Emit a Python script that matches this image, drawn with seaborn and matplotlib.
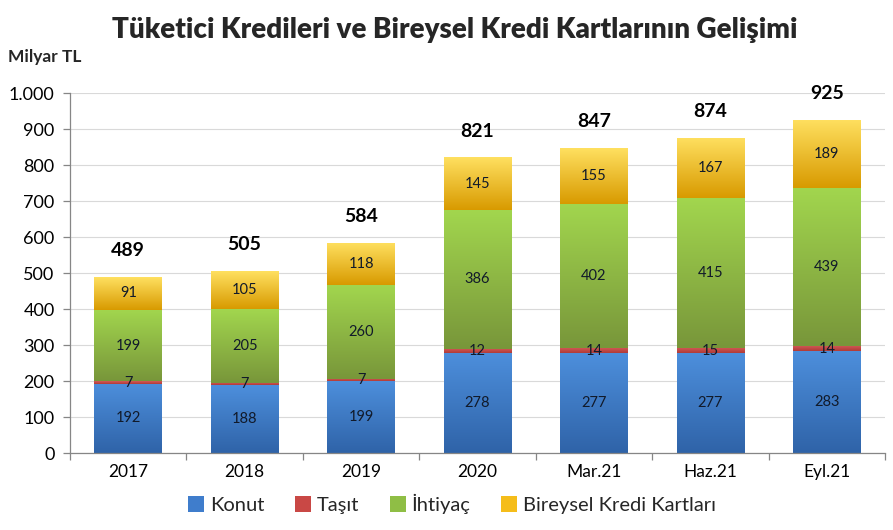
import numpy as np
import pandas as pd
import matplotlib
matplotlib.use("Agg")
import matplotlib.pyplot as plt
import seaborn as sns
from matplotlib.colors import LinearSegmentedColormap
from matplotlib.patches import Patch
from matplotlib.ticker import FuncFormatter, FixedLocator

categories = ['2017', '2018', '2019', '2020', 'Mar.21', 'Haz.21', 'Eyl.21']
konut = [192, 188, 199, 278, 277, 277, 283]
tasit = [7, 7, 7, 12, 14, 15, 14]
ihtiyac = [199, 205, 260, 386, 402, 415, 439]
kart = [91, 105, 118, 145, 155, 167, 189]
totals = [489, 505, 584, 821, 847, 874, 925]
series_names = ['Konut', 'Taşıt', 'İhtiyaç', 'Bireysel Kredi Kartları']
yticks = [0, 100, 200, 300, 400, 500, 600, 700, 800, 900, 1000]

sns.set_theme(style="white")
plt.rcParams['font.family'] = ['Lato', 'DejaVu Sans']

fig = plt.figure(figsize=(8.93, 5.3), dpi=100)
ax = fig.add_axes([70/893, 77/530, 815/893, 360/530])

# gradient (top colour, bottom colour) per series
grads = [('#4d8fdc', '#2f63a8'),
         ('#d45a57', '#b03b38'),
         ('#a2d64e', '#78963a'),
         ('#ffe060', '#d89a00')]
legend_cols = ['#3f7dcc', '#c94845', '#8fbe45', '#f5bd1a']

data = [konut, tasit, ihtiyac, kart]
df = pd.DataFrame({'cat': categories})
bottom = np.zeros(len(categories))
patch_groups = []
for i, vals in enumerate(data):
    df['v'] = vals
    n_before = len(ax.patches)
    sns.barplot(data=df, x='cat', y='v', bottom=bottom.copy(), color=grads[i][0],
                width=0.58, ax=ax, saturation=1, linewidth=0, errorbar=None)
    patch_groups.append(ax.patches[n_before:])
    bottom += np.array(vals)

ax.set_xlim(-0.5, len(categories) - 0.5)
ax.set_ylim(0, 1000)

# apply vertical gradients
for i, patches in enumerate(patch_groups):
    cmap = LinearSegmentedColormap.from_list('g%d' % i, [grads[i][1], grads[i][0]])
    grad = np.linspace(0, 1, 256).reshape(-1, 1)
    for p in patches:
        x0, y0 = p.get_x(), p.get_y()
        w, h = p.get_width(), p.get_height()
        im = ax.imshow(grad, cmap=cmap, origin='lower', aspect='auto',
                       extent=[x0, x0 + w, y0, y0 + h], zorder=2.5)
        im.set_clip_path(p)
ax.set_xlim(-0.5, len(categories) - 0.5)
ax.set_ylim(0, 1000)

# segment labels
bottom = np.zeros(len(categories))
for i, vals in enumerate(data):
    for j, v in enumerate(vals):
        yc = bottom[j] + v / 2
        ax.text(j, yc, str(v), ha='center', va='center', fontsize=10.5,
                color='#111a2a', zorder=5)
    bottom += np.array(vals)

# totals
for j, t in enumerate(totals):
    ax.annotate(str(t), (j, t), xytext=(0, 19), textcoords='offset points',
                ha='center', va='center', fontsize=14, fontweight='bold',
                color='black', zorder=5)

# axes styling
ax.yaxis.set_major_locator(FixedLocator(yticks))
ax.yaxis.set_major_formatter(FuncFormatter(lambda v, p: f"{int(v):,}".replace(',', '.')))
ax.grid(axis='y', color='#d9d9d9', linewidth=0.8, zorder=0)
ax.set_axisbelow(True)
for s in ['top', 'right']:
    ax.spines[s].set_visible(False)
for s in ['left', 'bottom']:
    ax.spines[s].set_color('#868686')
    ax.spines[s].set_linewidth(0.9)
ax.tick_params(axis='y', which='major', direction='out', length=5, color='#868686',
               width=0.9, left=True, labelsize=13, labelcolor='black', pad=6)
ax.set_xticks(range(len(categories)))
ax.set_xticklabels(categories)
ax.set_xticks(np.arange(-0.5, len(categories), 1), minor=True)
ax.tick_params(axis='x', which='major', length=0, labelsize=12.5, labelcolor='black', pad=8)
ax.tick_params(axis='x', which='minor', direction='out', length=5, color='#868686',
               width=0.9, bottom=True)
ax.set_xlabel('')
ax.set_ylabel('')

fig.text(455/893, 1 - 30/530, 'Tüketici Kredileri ve Bireysel Kredi Kartlarının Gelişimi',
         ha='center', va='center', fontsize=20, fontweight='heavy')
fig.text(8/893, 1 - 57/530, 'Milyar TL', ha='left', va='center', fontsize=12.5,
         fontweight='bold')

handles = [Patch(facecolor=c, edgecolor='none', label=n) for c, n in zip(legend_cols, series_names)]
fig.legend(handles=handles, loc='center', bbox_to_anchor=(452/893, 1 - 504/530), ncol=4,
           frameon=False, fontsize=14.5, handlelength=0.8, handleheight=0.8,
           handletextpad=0.3, columnspacing=1.5)

fig.savefig('out.png', dpi=100)
